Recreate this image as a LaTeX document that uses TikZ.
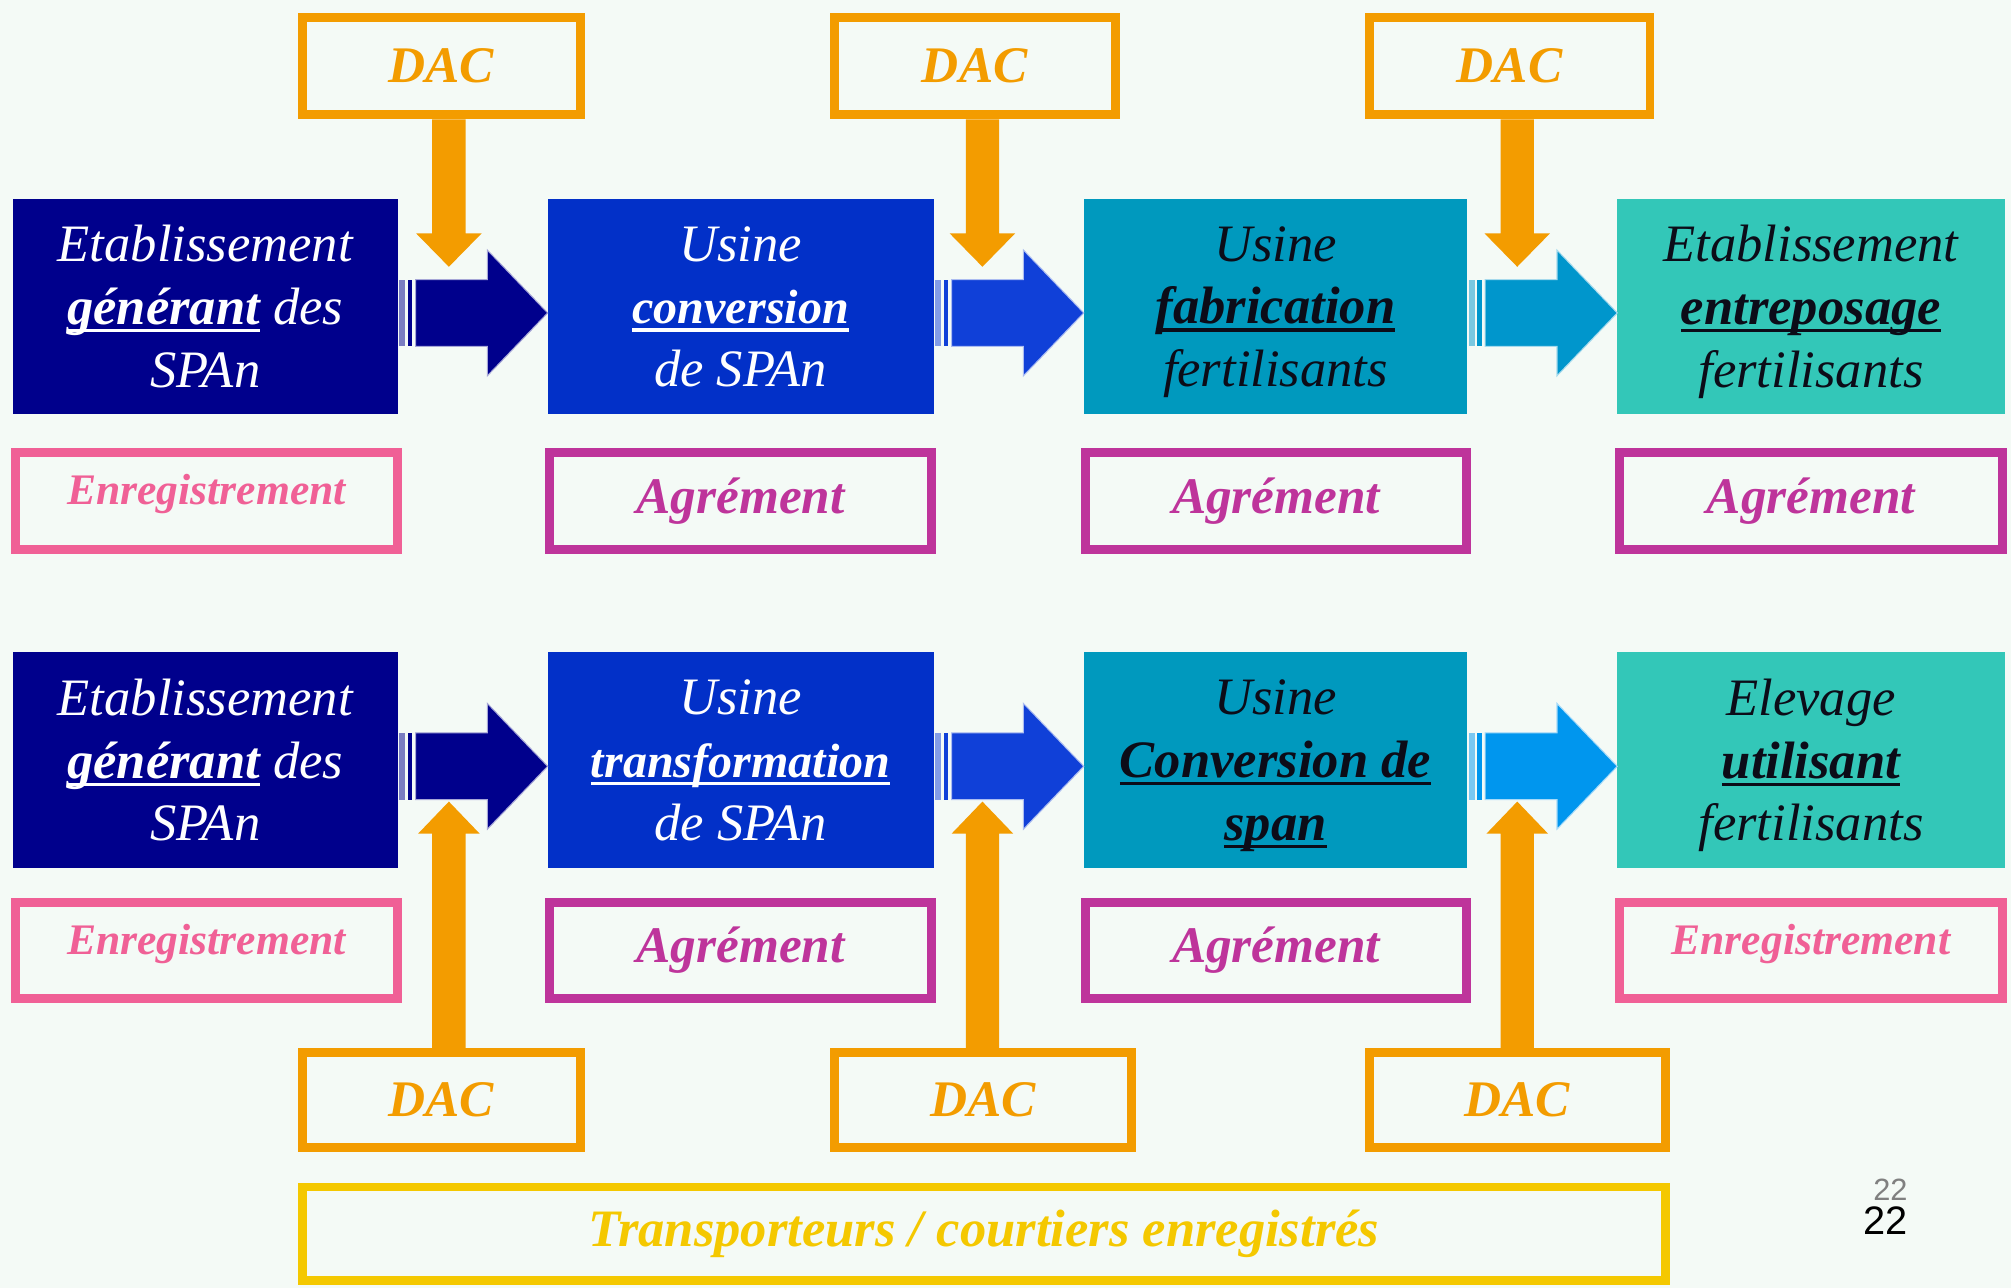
\documentclass[tikz,border=0pt]{standalone}
\usepackage{fontspec}
\setmainfont{Liberation Serif}
\newfontfamily\numfont{Liberation Sans}
\usetikzlibrary{calc}
\definecolor{bg}{RGB}{244,250,246}
\definecolor{cnavy}{RGB}{0,0,140}
\definecolor{croyal}{RGB}{2,48,200}
\definecolor{croyalb}{RGB}{16,64,216}
\definecolor{cteal}{RGB}{0,153,190}
\definecolor{ctealb}{RGB}{0,150,204}
\definecolor{csky}{RGB}{0,150,238}
\definecolor{cturq}{RGB}{51,199,184}
\definecolor{corange}{RGB}{243,156,0}
\definecolor{cmag}{RGB}{190,52,155}
\definecolor{cpink}{RGB}{240,96,150}
\definecolor{cyel}{RGB}{244,200,0}
\definecolor{cdark}{RGB}{12,12,24}
\newcommand{\myul}[1]{\setbox0\hbox{#1}\rlap{\rule[-6pt]{\wd0}{2.5pt}}\box0\relax}
\newcommand{\stripearrow}[3]{%
  \fill[#3!50!bg] let \p1=(#1.east) in (\x1+1pt,\y1+21pt) rectangle (\x1+6pt,\y1-31pt);
  \fill[#3] let \p1=(#1.east) in (\x1+8pt,\y1+21pt) rectangle (\x1+11.5pt,\y1-31pt);
  \path[fill=#3, draw=#3!35!white, line width=0.8pt] let \p1=(#1.east), \p2=(#2.west) in
    (\x1+14pt,\y1+21pt) -- (\x2-47pt,\y1+21pt) -- (\x2-47pt,\y1+44pt) -- (\x2,\y1-5pt)
    -- (\x2-47pt,\y1-54pt) -- (\x2-47pt,\y1-31pt) -- (\x1+14pt,\y1-31pt) -- cycle;}
\newcommand{\orangedown}[2]{%
  \fill[corange] let \p1=(#1.south), \p2=(#2) in (\x2-13pt,\y1) -- (\x2+13pt,\y1)
    -- (\x2+13pt,\y2+26pt) -- (\x2+25.5pt,\y2+26pt) -- (\x2,\y2) -- (\x2-25.5pt,\y2+26pt)
    -- (\x2-13pt,\y2+26pt) -- cycle;}
\newcommand{\orangeup}[2]{%
  \fill[corange] let \p1=(#1.north), \p2=(#2) in (\x2-13pt,\y1) -- (\x2-13pt,\y2-25pt)
    -- (\x2-24pt,\y2-25pt) -- (\x2,\y2) -- (\x2+24pt,\y2-25pt) -- (\x2+13pt,\y2-25pt)
    -- (\x2+13pt,\y1) -- cycle;}
\begin{document}
\begin{tikzpicture}[x=1pt,y=-1pt,
  mainbox/.style={inner sep=0pt, outer sep=0pt, minimum width=300pt, minimum height=168pt,
    align=center, text depth=0pt, font=\fontsize{41}{49}\selectfont\itshape},
  dacbox/.style={draw=corange, line width=7pt, fill=bg, minimum width=217pt, minimum height=76pt,
    inner sep=0pt, font=\fontsize{40}{48}\selectfont\bfseries\itshape, text=corange},
  agrbox/.style={draw=cmag, line width=7pt, fill=bg, minimum width=298pt, minimum height=76pt,
    inner sep=0pt, font=\fontsize{40}{48}\selectfont\bfseries\itshape, text=cmag},
  enrbox/.style={agrbox, draw=cpink, text=cpink, font=\fontsize{34}{40}\selectfont\bfseries\itshape},
  trbox/.style={draw=cyel, line width=7pt, fill=bg, minimum width=1063pt, minimum height=73pt,
    inner sep=0pt, font=\fontsize{41}{48}\selectfont\bfseries\itshape, text=cyel}]
\useasboundingbox[fill=bg] (0,0) rectangle (1568,1004);

% top row
\node[mainbox, fill=cnavy, text=white] (t1) at (160,239)
  {Etablissement\\\myul{\bfseries générant} des\\SPAn};
\node[mainbox, fill=croyal, text=white, minimum width=301pt] (t2) at (577.5,239)
  {Usine\\\myul{\bfseries\fontsize{37.5}{49}\selectfont conversion}\\de SPAn};
\node[mainbox, fill=cteal, text=cdark, minimum width=299pt] (t3) at (994.5,239)
  {Usine\\\myul{\bfseries fabrication}\\fertilisants};
\node[mainbox, fill=cturq, text=cdark, minimum width=302pt] (t4) at (1412,239)
  {Etablissement\\\myul{\bfseries entreposage}\\fertilisants};

\node[dacbox] (d1) at (344,51.5) {DAC};
\node[dacbox, minimum width=219pt] (d2) at (760,51.5) {DAC};
\node[dacbox, minimum width=219pt] (d3) at (1177,51.5) {DAC};

\node[enrbox] (g1) at (161,390.5) {\raisebox{5pt}[\height][\depth]{Enregistrement}};
\node[agrbox] (g2) at (577.5,390.5) {Agrément};
\node[agrbox, minimum width=297pt] (g3) at (995,390.5) {Agrément};
\node[agrbox, minimum width=299pt] (g4) at (1412,390.5) {Agrément};

% bottom row
\node[mainbox, fill=cnavy, text=white, minimum height=169pt] (b1) at (160,592.5)
  {Etablissement\\\myul{\bfseries générant} des\\SPAn};
\node[mainbox, fill=croyal, text=white, minimum width=301pt, minimum height=169pt] (b2) at (577.5,592.5)
  {Usine\\\myul{\bfseries\fontsize{37.5}{49}\selectfont transformation}\\de SPAn};
\node[mainbox, fill=cteal, text=cdark, minimum width=299pt, minimum height=169pt] (b3) at (994.5,592.5)
  {Usine\\\myul{\bfseries Conversion de}\\\myul{\bfseries span}};
\node[mainbox, fill=cturq, text=cdark, minimum width=302pt, minimum height=169pt] (b4) at (1412,592.5)
  {Elevage\\\myul{\bfseries utilisant}\\fertilisants};

\node[enrbox, minimum height=75pt] (h1) at (161,741) {\raisebox{5pt}[\height][\depth]{Enregistrement}};
\node[agrbox, minimum height=75pt] (h2) at (577.5,741) {Agrément};
\node[agrbox, minimum width=297pt, minimum height=75pt] (h3) at (995,741) {Agrément};
\node[enrbox, minimum width=299pt, minimum height=75pt] (h4) at (1412,741) {\raisebox{5pt}[\height][\depth]{Enregistrement}};

\node[dacbox, minimum height=74pt] (e1) at (344,857.5) {DAC};
\node[dacbox, minimum width=232pt, minimum height=74pt] (e2) at (766.5,857.5) {DAC};
\node[dacbox, minimum width=231pt, minimum height=74pt] (e3) at (1183,857.5) {DAC};

\node[trbox] (tr) at (767,962) {Transporteurs / courtiers enregistrés};

\node[font=\numfont\fontsize{24}{24}\selectfont, text=black!50] (pg1) at (1474,928) {22};
\node[font=\numfont\fontsize{31}{31}\selectfont, text=black] (pg2) at (1470,952) {22};

% horizontal striped arrows
\stripearrow{t1}{t2}{cnavy}
\stripearrow{t2}{t3}{croyalb}
\stripearrow{t3}{t4}{ctealb}
\stripearrow{b1}{b2}{cnavy}
\stripearrow{b2}{b3}{croyalb}
\stripearrow{b3}{b4}{csky}

% orange arrows
\coordinate (od1) at (350,208);
\coordinate (od2) at (766,208);
\coordinate (od3) at (1183,208);
\orangedown{d1}{od1}
\orangedown{d2}{od2}
\orangedown{d3}{od3}
\coordinate (ou1) at (350,625);
\coordinate (ou2) at (766,625);
\coordinate (ou3) at (1183,625);
\orangeup{e1}{ou1}
\orangeup{e2}{ou2}
\orangeup{e3}{ou3}
\end{tikzpicture}
\end{document}
